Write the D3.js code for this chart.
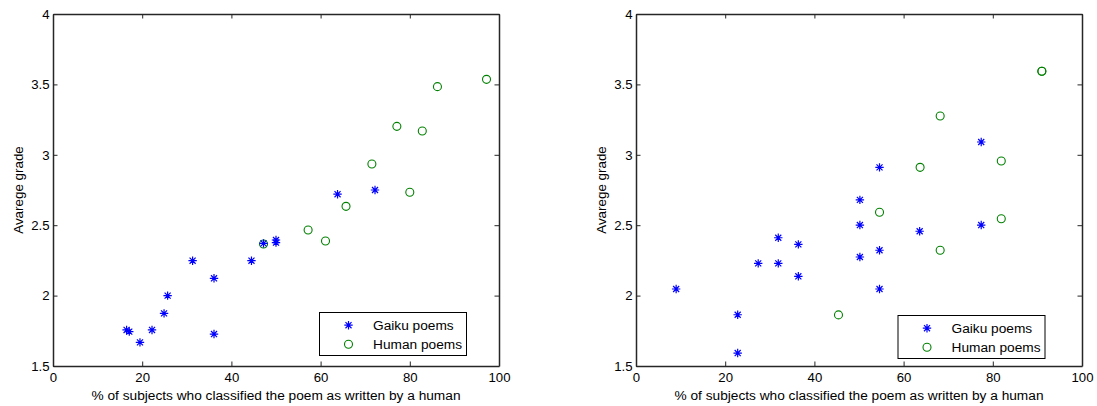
<!DOCTYPE html>
<html>
<head>
	<script src="https://d3js.org/d3.v7.min.js"></script>
	<style>
		body { margin: 0; background: #fff; }
		text { font-family: "Liberation Sans", Arial, Helvetica, sans-serif; fill: #000; }
	</style>
</head>
<body>
	<script type="text/javascript">

		//tick values and labels (shared by both panels)
		var xTicks = [0, 20, 40, 60, 80, 100];
		var xTickLabels = ["0", "20", "40", "60", "80", "100"];
		var yTicks = [1.5, 2, 2.5, 3, 3.5, 4];
		var yTickLabels = ["1.5", "2", "2.5", "3", "3.5", "4"];

		var xLabel = "% of subjects who classified the poem as written by a human";
		var yLabel = "Avarege grade";
		var seriesNames = ["Gaiku poems", "Human poems"];

		//left panel: [% classified as human, average grade]
		var leftGaiku = [
			[16.5, 1.756], [17.1, 1.744], [19.5, 1.668], [22.2, 1.756], [24.9, 1.874],
			[25.7, 2.0], [31.3, 2.248], [36.1, 2.123], [36.1, 1.727], [44.5, 2.248],
			[47.2, 2.371], [50.0, 2.395], [50.0, 2.376], [63.8, 2.72], [72.2, 2.75]
		];
		var leftHuman = [
			[47.2, 2.367], [57.2, 2.466], [61.1, 2.388], [65.7, 2.634], [80.0, 2.734],
			[71.5, 2.935], [77.1, 3.202], [82.8, 3.169], [86.2, 3.484], [97.2, 3.536]
		];

		//right panel
		var rightGaiku = [
			[9.0, 2.047], [22.8, 1.864], [22.8, 1.592], [27.4, 2.229], [31.9, 2.411],
			[31.9, 2.229], [36.4, 2.364], [36.4, 2.137], [50.2, 2.68], [50.2, 2.501],
			[50.2, 2.274], [54.6, 2.911], [54.6, 2.322], [54.6, 2.047], [63.6, 2.457],
			[77.4, 3.091], [77.4, 2.501]
		];
		var rightHuman = [
			[45.4, 1.863], [54.6, 2.592], [63.7, 2.911], [68.2, 3.276], [68.2, 2.322],
			[81.9, 2.956], [81.9, 2.546], [91.0, 3.593], [91.0, 3.593]
		];

		var w = 1097;
		var h = 406;

		var svg = d3.select("body")
				.append("svg")
				.attr("width", w)
				.attr("height", h);

		//star marker like matlab '*'
		var starPath = function(r) {
			var k = r * 0.72;
			return "M" + (-r) + ",0H" + r + "M0," + (-r) + "V" + r +
				"M" + (-k) + "," + (-k) + "L" + k + "," + k +
				"M" + (-k) + "," + k + "L" + k + "," + (-k);
		};

		var blue = "#0000ff";
		var green = "#008000";

		function drawPanel(left, right, top, bottom, gaiku, human, legend) {
			var xScale = d3.scaleLinear().domain([0, 100]).range([left, right]);
			var yScale = d3.scaleLinear().domain([1.5, 4]).range([bottom, top]);

			var g = svg.append("g");

			//axes: ticks point inwards, box on all four sides
			var bottomAxis = d3.axisBottom(xScale)
					.tickValues(xTicks)
					.tickFormat(function(d, i) { return xTickLabels[i]; })
					.tickSizeInner(-4.5).tickSizeOuter(0).tickPadding(7);
			var topAxis = d3.axisTop(xScale)
					.tickValues(xTicks).tickFormat("")
					.tickSizeInner(-4.5).tickSizeOuter(0);
			var leftAxis = d3.axisLeft(yScale)
					.tickValues(yTicks)
					.tickFormat(function(d, i) { return yTickLabels[i]; })
					.tickSizeInner(-4.5).tickSizeOuter(0).tickPadding(3.5);
			var rightAxis = d3.axisRight(yScale)
					.tickValues(yTicks).tickFormat("")
					.tickSizeInner(-4.5).tickSizeOuter(0);

			g.append("g").attr("transform", "translate(0," + bottom + ")").call(bottomAxis);
			g.append("g").attr("transform", "translate(0," + top + ")").call(topAxis);
			g.append("g").attr("transform", "translate(" + left + ",0)").call(leftAxis);
			g.append("g").attr("transform", "translate(" + right + ",0)").call(rightAxis);

			g.selectAll(".domain").attr("stroke", "#262626").attr("stroke-width", 1.5);
			g.selectAll(".tick line").attr("stroke", "#262626").attr("stroke-width", 1);
			g.selectAll(".tick text")
				.attr("font-size", 13.2)
				.attr("font-family", "Liberation Sans, Arial, sans-serif")
				.attr("fill", "#000");

			//axis titles
			g.append("text")
				.attr("x", (left + right) / 2)
				.attr("y", 399.5)
				.attr("text-anchor", "middle")
				.attr("font-size", 13.7)
				.text(xLabel);

			g.append("text")
				.attr("transform", "translate(" + (left - 30.5) + "," + ((top + bottom) / 2) + ") rotate(-90)")
				.attr("text-anchor", "middle")
				.attr("font-size", 13.4)
				.text(yLabel);

			//human circles first, stars on top
			g.selectAll("circle.human")
				.data(human)
				.enter()
				.append("circle")
				.attr("class", "human")
				.attr("cx", function(d) { return xScale(d[0]); })
				.attr("cy", function(d) { return yScale(d[1]); })
				.attr("r", 4)
				.attr("fill", "none")
				.attr("stroke", green)
				.attr("stroke-width", 1.1);

			g.selectAll("path.gaiku")
				.data(gaiku)
				.enter()
				.append("path")
				.attr("class", "gaiku")
				.attr("d", starPath(4.2))
				.attr("transform", function(d) {
					return "translate(" + xScale(d[0]) + "," + yScale(d[1]) + ")";
				})
				.attr("fill", "none")
				.attr("stroke", blue)
				.attr("stroke-width", 1.2);

			//legend
			var lg = g.append("g").attr("transform", "translate(" + legend.x + "," + legend.y + ")");
			lg.append("rect")
				.attr("width", 147)
				.attr("height", 43)
				.attr("fill", "#fff")
				.attr("stroke", "#000")
				.attr("stroke-width", 1);

			lg.append("path")
				.attr("d", starPath(4.2))
				.attr("transform", "translate(29,12.7)")
				.attr("fill", "none")
				.attr("stroke", blue)
				.attr("stroke-width", 1.2);
			lg.append("circle")
				.attr("cx", 29).attr("cy", 31.7).attr("r", 4)
				.attr("fill", "none")
				.attr("stroke", green)
				.attr("stroke-width", 1.1);

			lg.selectAll("text.item")
				.data(seriesNames)
				.enter()
				.append("text")
				.attr("class", "item")
				.attr("x", 53.5)
				.attr("y", function(d, i) { return 17.5 + i * 19; })
				.attr("font-size", 13.7)
				.text(function(d) { return d; });
		}

		drawPanel(53, 499, 14, 366, leftGaiku, leftHuman, {x: 319.5, y: 312.5});
		drawPanel(636, 1082, 14, 366, rightGaiku, rightHuman, {x: 898, y: 315.5});

	</script>
</body>
</html>
